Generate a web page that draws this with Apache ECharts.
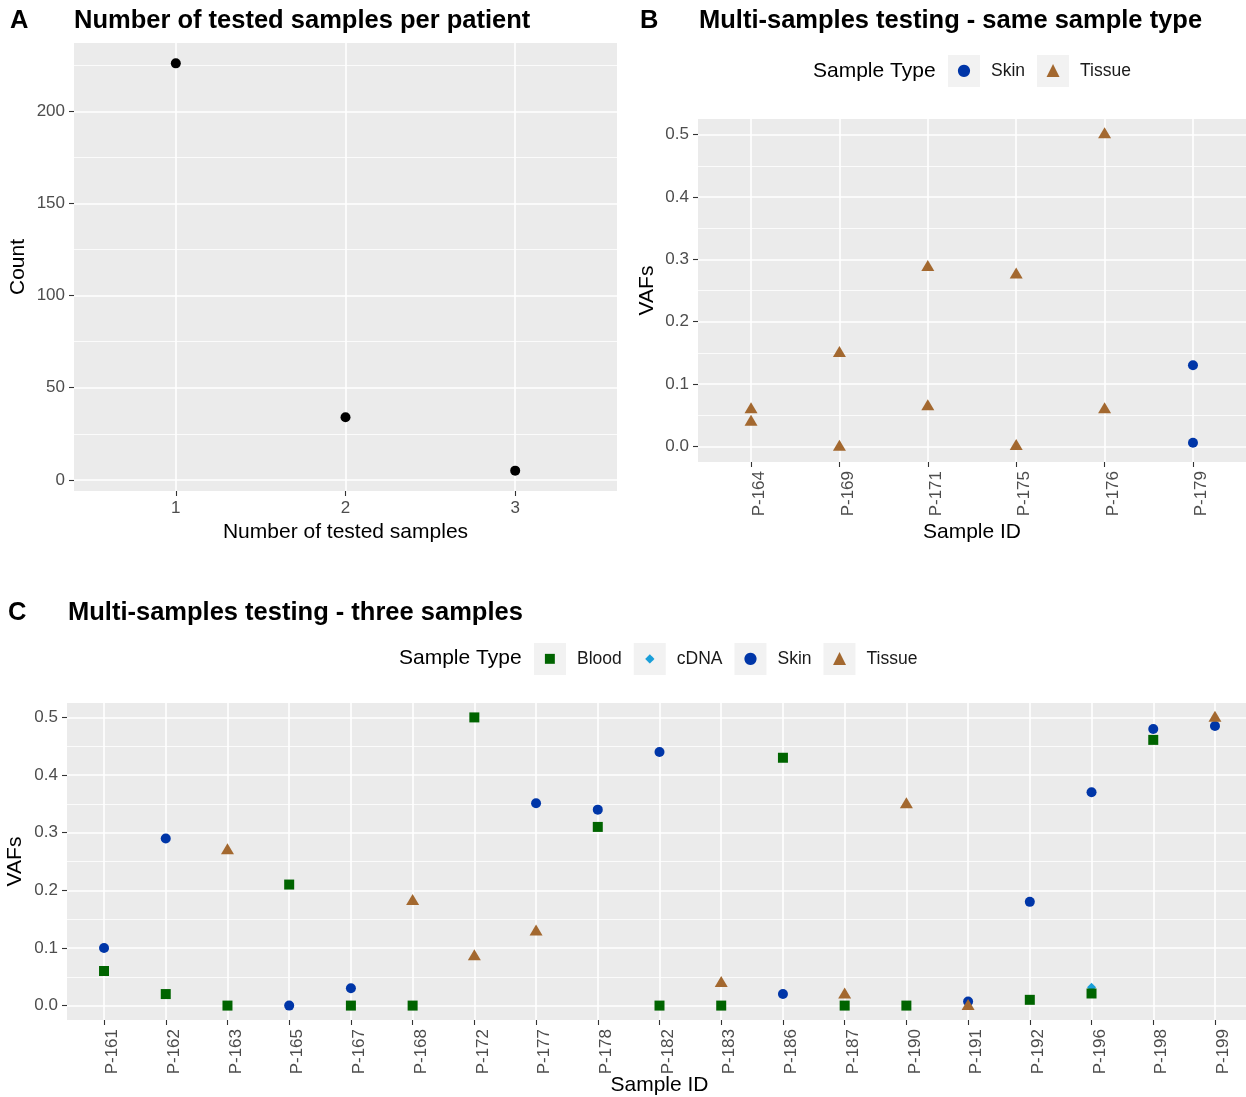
<!DOCTYPE html>
<html>
<head>
<meta charset="utf-8">
<title>Tested samples and VAFs</title>
<script src="https://cdn.jsdelivr.net/npm/echarts@6/dist/echarts.min.js"></script>
<style>
  html, body { margin: 0; padding: 0; background: #ffffff; }
  #chart { width: 1246px; height: 1097px; }
</style>
</head>
<body>
<div id="chart"></div>
<script>
// A - number of tested samples per patient
const testedCounts = ['1', '2', '3'];
const patientCounts = [226, 34, 5];
const countTicks = [0, 50, 100, 150, 200];

// B - multi-samples testing, same sample type
const sameTypeIds = ['P-164', 'P-169', 'P-171', 'P-175', 'P-176', 'P-179'];
const sameTypeSkin = [['P-179', 0.13], ['P-179', 0.006]];
const sameTypeTissue = [
  ['P-164', 0.062], ['P-164', 0.042], ['P-169', 0.152], ['P-169', 0.002],
  ['P-171', 0.29], ['P-171', 0.067], ['P-175', 0.278], ['P-175', 0.003],
  ['P-176', 0.503], ['P-176', 0.062]
];

// C - multi-samples testing, three samples
const threeIds = ['P-161', 'P-162', 'P-163', 'P-165', 'P-167', 'P-168', 'P-172', 'P-177', 'P-178', 'P-182',
  'P-183', 'P-186', 'P-187', 'P-190', 'P-191', 'P-192', 'P-196', 'P-198', 'P-199'];
const threeBlood = [
  ['P-161', 0.06], ['P-162', 0.02], ['P-163', 0], ['P-165', 0.21], ['P-167', 0], ['P-168', 0],
  ['P-172', 0.5], ['P-178', 0.31], ['P-182', 0], ['P-183', 0], ['P-186', 0.43], ['P-187', 0],
  ['P-190', 0], ['P-192', 0.01], ['P-196', 0.021], ['P-198', 0.461]
];
const threeCdna = [['P-196', 0.032]];
const threeSkin = [
  ['P-161', 0.1], ['P-162', 0.29], ['P-165', 0], ['P-167', 0.03], ['P-177', 0.351], ['P-178', 0.34],
  ['P-182', 0.44], ['P-186', 0.02], ['P-191', 0.007], ['P-192', 0.18], ['P-196', 0.37], ['P-198', 0.48],
  ['P-199', 0.485]
];
const threeTissue = [
  ['P-163', 0.272], ['P-168', 0.184], ['P-172', 0.088], ['P-177', 0.131], ['P-183', 0.042],
  ['P-187', 0.022], ['P-190', 0.352], ['P-191', 0.002], ['P-199', 0.502]
];
const vafTicks = [0, 0.1, 0.2, 0.3, 0.4, 0.5];

const typeColors = { Blood: '#006400', cDNA: '#1A9FD9', Skin: '#0036A8', Tissue: '#A3682F' };
const typeGlyphs = { Blood: '\u25A0', cDNA: '\u25C6', Skin: '\u25CF', Tissue: '\u25B2' };
const glyphSizes = { Blood: 13, cDNA: 12, Skin: 16, Tissue: 17 };

const chart = echarts.init(document.getElementById('chart'));

const toPoints = (pairs, ids) => pairs.map(p => [ids.indexOf(p[0]), p[1]]);

const tickStyle = { show: true, length: 5, lineStyle: { color: '#333333', width: 1.1 } };
const labelStyle = { color: '#4D4D4D', fontSize: 17 };
const nameStyle = { color: '#000000', fontSize: 21 };

function idAxis(gridIndex, ids, name, nameGap, rotate) {
  const idx = ids.map((_, i) => i);
  const label = {
    customValues: idx, rotate: rotate, margin: 9,
    formatter: v => ids[Math.round(v)]
  };
  // rotated labels sit just right of their tick, as in ggplot
  if (rotate) label.verticalAlign = 'top';
  return {
    type: 'value', gridIndex: gridIndex,
    min: -0.6, max: ids.length - 0.4,
    name: name, nameLocation: 'middle', nameGap: nameGap, nameTextStyle: nameStyle,
    nameMoveOverlap: false,
    axisLine: { show: false, onZero: false },
    axisTick: Object.assign({ customValues: idx }, tickStyle),
    axisLabel: Object.assign(label, labelStyle),
    splitLine: { show: true, lineStyle: { color: '#ffffff', width: 1.6 } },
    minorSplitLine: { show: false }
  };
}

function valueAxis(gridIndex, min, max, ticks, digits, name, nameGap) {
  return {
    type: 'value', gridIndex: gridIndex,
    min: min, max: max, splitNumber: 5,
    name: name, nameLocation: 'middle', nameGap: nameGap, nameRotate: 90, nameTextStyle: nameStyle,
    nameMoveOverlap: false,
    axisLine: { show: false, onZero: false },
    axisTick: Object.assign({ customValues: ticks }, tickStyle),
    axisLabel: Object.assign({
      customValues: ticks, margin: 9,
      formatter: v => v.toFixed(digits)
    }, labelStyle),
    splitLine: { show: true, lineStyle: { color: '#ffffff', width: 1.6 } },
    minorTick: { show: false, splitNumber: 2 },
    minorSplitLine: { show: true, lineStyle: { color: '#ffffff', width: 0.8 } }
  };
}

function typeLegend(names, left, top) {
  const rich = { lab: { fontSize: 17.5, color: '#1A1A1A', padding: [0, 0, 0, 11] } };
  names.forEach(n => {
    rich['k' + n] = {
      width: 32, height: 32, lineHeight: 32, align: 'center', verticalAlign: 'middle',
      backgroundColor: '#F2F2F2', color: typeColors[n], fontSize: glyphSizes[n],
      fontFamily: 'DejaVu Sans'
    };
  });
  return {
    data: names, left: left, top: top, padding: 0, orient: 'horizontal',
    icon: 'none', itemWidth: 0, itemHeight: 32, itemGap: 7,
    formatter: n => '{k' + n + '|' + typeGlyphs[n] + '}{lab|' + n + '}',
    textStyle: { rich: rich }
  };
}

function scatter(name, x, y, data, symbol, size, z) {
  return {
    name: name, type: 'scatter', xAxisIndex: x, yAxisIndex: y, data: data,
    symbol: symbol, symbolSize: size, z: z,
    itemStyle: { color: typeColors[name] || '#000000', opacity: 1 },
    emphasis: { disabled: true }
  };
}

const titleText = { fontSize: 25.5, fontWeight: 'bold', color: '#000000' };
const legendTitleText = { fontSize: 21, fontWeight: 'normal', color: '#000000' };
const panel = { show: true, backgroundColor: '#EBEBEB', borderWidth: 0, outerBoundsMode: 'none', containLabel: false };

const option = {
  backgroundColor: '#ffffff',
  animation: false,
  textStyle: { fontFamily: 'Liberation Sans, Arial, sans-serif' },
  title: [
    { text: 'A', left: 10, top: 8, padding: 0, textStyle: titleText },
    { text: 'Number of tested samples per patient', left: 74, top: 8, padding: 0, textStyle: titleText },
    { text: 'B', left: 640, top: 8, padding: 0, textStyle: titleText },
    { text: 'Multi-samples testing - same sample type', left: 699, top: 8, padding: 0, textStyle: titleText },
    { text: 'C', left: 8, top: 600, padding: 0, textStyle: titleText },
    { text: 'Multi-samples testing - three samples', left: 68, top: 600, padding: 0, textStyle: titleText },
    { text: 'Sample Type', left: 813, top: 61, padding: 0, textStyle: legendTitleText },
    { text: 'Sample Type', left: 399, top: 648, padding: 0, textStyle: legendTitleText }
  ],
  legend: [
    typeLegend(['Skin', 'Tissue'], 943, 55),
    typeLegend(['Blood', 'cDNA', 'Skin', 'Tissue'], 529, 643)
  ],
  grid: [
    Object.assign({ left: 74, top: 43, width: 543, height: 448 }, panel),
    Object.assign({ left: 698, top: 119, width: 548, height: 343 }, panel),
    Object.assign({ left: 67, top: 703, width: 1185, height: 317 }, panel)
  ],
  xAxis: [
    idAxis(0, testedCounts, 'Number of tested samples', 31, 0),
    idAxis(1, sameTypeIds, 'Sample ID', 60, 90),
    idAxis(2, threeIds, 'Sample ID', 55, 90)
  ],
  yAxis: [
    valueAxis(0, -6.05, 237.05, countTicks, 0, 'Count', 45),
    valueAxis(1, -0.025, 0.525, vafTicks, 1, 'VAFs', 40),
    valueAxis(2, -0.025, 0.525, vafTicks, 1, 'VAFs', 41)
  ],
  series: [
    scatter('Count', 0, 0, patientCounts.map((v, i) => [i, v]), 'circle', 10, 2),
    scatter('Skin', 1, 1, toPoints(sameTypeSkin, sameTypeIds), 'circle', 10, 2),
    scatter('Tissue', 1, 1, toPoints(sameTypeTissue, sameTypeIds), 'triangle', [13, 11], 3),
    scatter('cDNA', 2, 2, toPoints(threeCdna, threeIds), 'diamond', 9, 2),
    scatter('Blood', 2, 2, toPoints(threeBlood, threeIds), 'rect', 10, 3),
    scatter('Skin', 2, 2, toPoints(threeSkin, threeIds), 'circle', 10, 4),
    scatter('Tissue', 2, 2, toPoints(threeTissue, threeIds), 'triangle', [13, 11], 5)
  ]
};

chart.setOption(option);
window.addEventListener('resize', () => chart.resize());
</script>
</body>
</html>
